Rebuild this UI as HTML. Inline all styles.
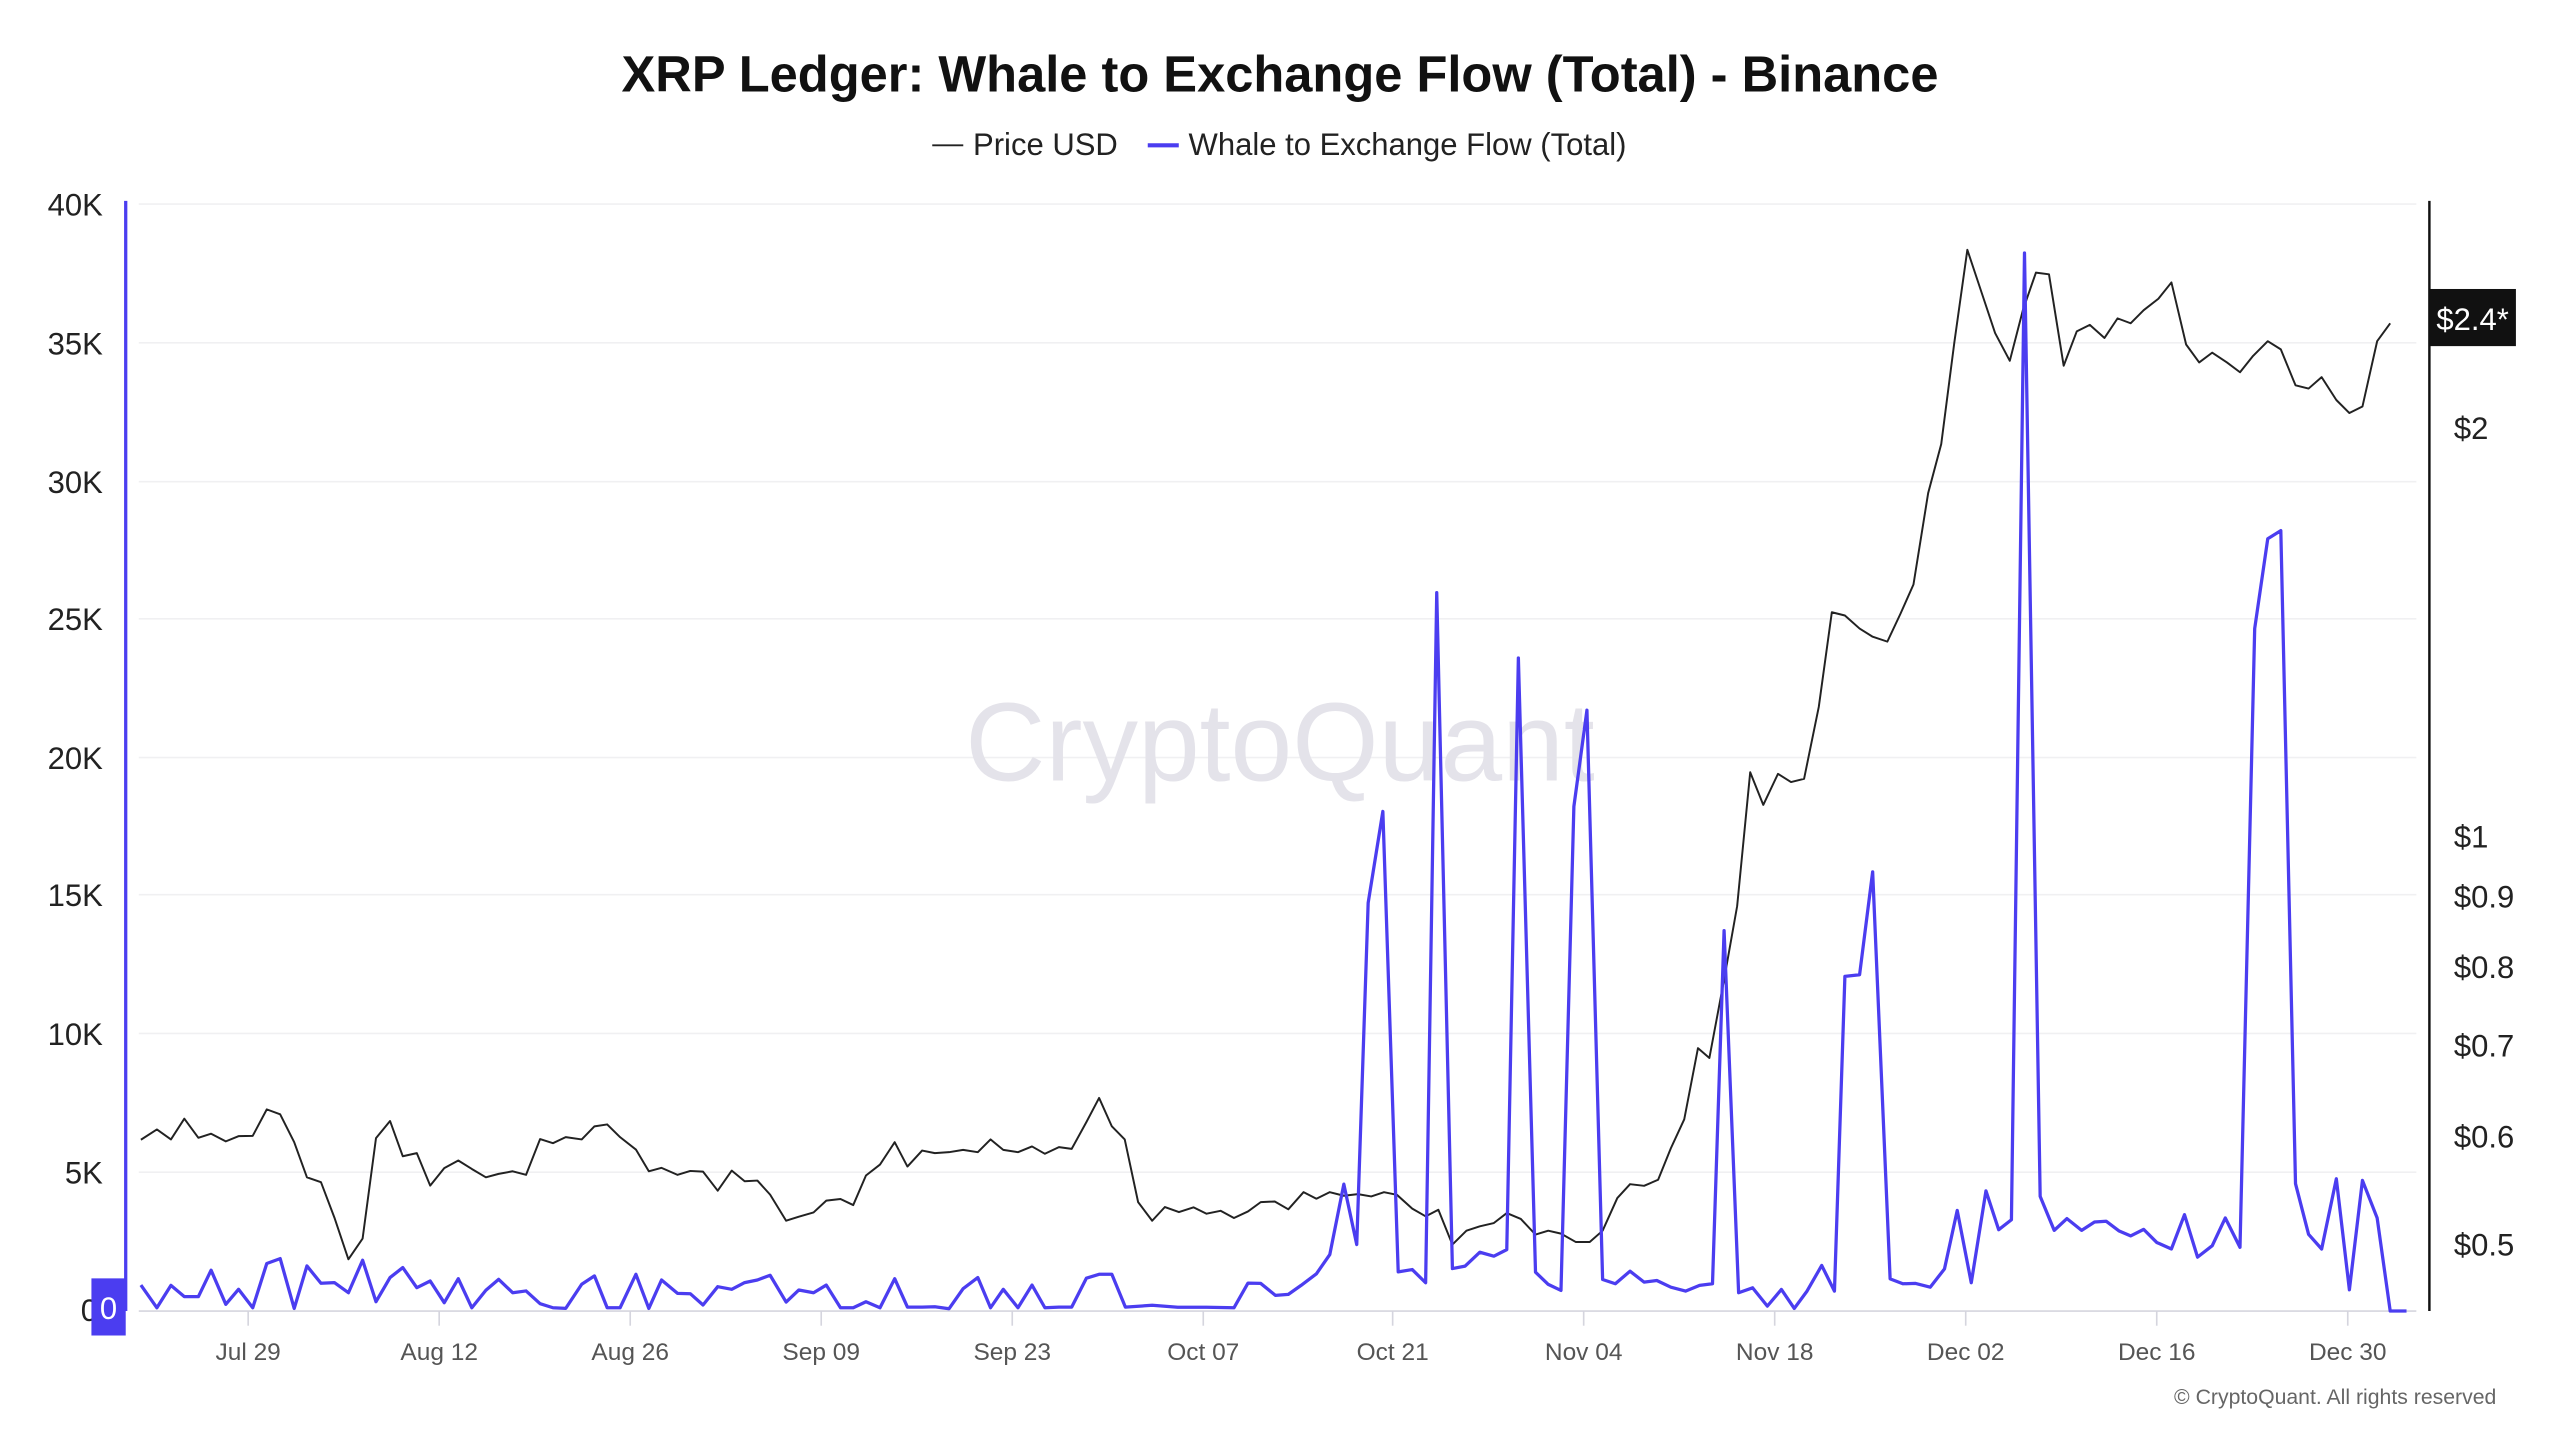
<!DOCTYPE html>
<html><head><meta charset="utf-8"><style>
html,body{margin:0;padding:0;background:#fff;}
svg{display:block;}
text{font-family:"Liberation Sans",sans-serif;}
</style></head><body>
<svg width="2560" height="1440" viewBox="0 0 1568 882" preserveAspectRatio="none" xmlns="http://www.w3.org/2000/svg">
<rect width="1568" height="882" fill="#fff"/>
<text x="784" y="56" text-anchor="middle" font-size="31" font-weight="bold" fill="#111">XRP Ledger: Whale to Exchange Flow (Total) - Binance</text>
<line x1="571" y1="89" x2="590" y2="89" stroke="#222" stroke-width="1.2"/>
<text x="596" y="95" font-size="19" fill="#222">Price USD</text>
<line x1="703" y1="89" x2="722" y2="89" stroke="#4b3df0" stroke-width="2.5"/>
<text x="728" y="95" font-size="19" fill="#222">Whale to Exchange Flow (Total)</text>
<g stroke="#f0f0f2" stroke-width="1">
<line x1="85" y1="125" x2="1480" y2="125"/><line x1="85" y1="210" x2="1480" y2="210"/><line x1="85" y1="295" x2="1480" y2="295"/><line x1="85" y1="379" x2="1480" y2="379"/><line x1="85" y1="464" x2="1480" y2="464"/><line x1="85" y1="548" x2="1480" y2="548"/><line x1="85" y1="633" x2="1480" y2="633"/><line x1="85" y1="718" x2="1480" y2="718"/>
</g>
<text x="784" y="478" text-anchor="middle" font-size="68" fill="#e4e3ea">CryptoQuant</text>
<line x1="85" y1="803" x2="1480" y2="803" stroke="#d5d5de" stroke-width="1"/>
<g stroke="#d5d5de" stroke-width="1">
<line x1="152" y1="803" x2="152" y2="812"/><line x1="269" y1="803" x2="269" y2="812"/><line x1="386" y1="803" x2="386" y2="812"/><line x1="503" y1="803" x2="503" y2="812"/><line x1="620" y1="803" x2="620" y2="812"/><line x1="737" y1="803" x2="737" y2="812"/><line x1="853" y1="803" x2="853" y2="812"/><line x1="970" y1="803" x2="970" y2="812"/><line x1="1087" y1="803" x2="1087" y2="812"/><line x1="1204" y1="803" x2="1204" y2="812"/><line x1="1321" y1="803" x2="1321" y2="812"/><line x1="1438" y1="803" x2="1438" y2="812"/>
</g>
<g font-size="15" fill="#555" text-anchor="middle">
<text x="152" y="833">Jul 29</text><text x="269" y="833">Aug 12</text><text x="386" y="833">Aug 26</text><text x="503" y="833">Sep 09</text><text x="620" y="833">Sep 23</text><text x="737" y="833">Oct 07</text><text x="853" y="833">Oct 21</text><text x="970" y="833">Nov 04</text><text x="1087" y="833">Nov 18</text><text x="1204" y="833">Dec 02</text><text x="1321" y="833">Dec 16</text><text x="1438" y="833">Dec 30</text>
</g>
<g font-size="19" fill="#222" text-anchor="end">
<text x="63" y="132">40K</text><text x="63" y="217">35K</text><text x="63" y="302">30K</text><text x="63" y="386">25K</text><text x="63" y="471">20K</text><text x="63" y="555">15K</text><text x="63" y="640">10K</text><text x="63" y="725">5K</text><text x="60" y="809">0</text>
</g>
<g font-size="19" fill="#222">
<text x="1503" y="269">$2</text><text x="1503" y="519">$1</text><text x="1503" y="556">$0.9</text><text x="1503" y="599">$0.8</text><text x="1503" y="647">$0.7</text><text x="1503" y="703">$0.6</text><text x="1503" y="769">$0.5</text>
</g>
<line x1="77" y1="123" x2="77" y2="803" stroke="#4b3df0" stroke-width="2"/>
<line x1="1488" y1="123" x2="1488" y2="803" stroke="#111" stroke-width="1.5"/>
<polyline fill="none" stroke="#222" stroke-width="1.2" stroke-linejoin="round" points="86.3,698.1 96.1,691.8 104.7,697.9 112.9,685.2 121.5,696.9 129.3,694.4 138.3,699.1 146.1,695.9 154.8,695.7 163.4,679.5 171.6,682.5 180.2,699.6 188,721.1 196.6,724.1 204.8,745.7 213.4,771.3 222.1,758.6 230.3,697.1 238.9,686.6 246.7,708.2 255.3,706.3 263.5,726.2 272.1,715.5 280.7,710.8 289,716 297.6,721.1 305.4,719 314,717.4 322.2,719.6 330.8,697.7 338.7,700.2 346.5,696.5 356.3,697.9 364.1,689.9 371.9,688.7 379.8,696.5 389.5,704.1 397.4,717.4 405.2,715.3 415,719.6 422.8,717.2 430.6,717.6 439.6,729.3 448.2,717 456.1,723.5 463.9,723.1 471.7,731.7 481.5,747.7 489.3,745.2 498.3,742.6 506.1,735.4 514.8,734.4 522.6,738.1 530.4,720 539,713.3 548,699.6 555.8,714.5 564.8,704.7 572.6,706.3 581.3,705.7 589.9,704.3 598.9,705.7 606.7,697.9 614.5,704.3 623.5,705.7 632.1,702.2 640,706.7 648.6,702.6 656.4,703.7 665.4,687.3 673.2,672.5 681,689.9 688.9,697.9 697.1,736.3 705.7,747.7 713.5,739.3 722.1,742.4 731.1,739.5 739,743.4 747.6,741.6 755.8,746 764.4,742 772.2,736.3 780.8,735.9 789.1,740.7 798.4,730.2 806.3,734.2 814.5,730.2 823.1,732.4 831.7,731.4 839.9,732.8 847.7,730.2 855.6,731.8 865,740.3 873.2,745 881,741 889.6,762.3 898.2,753.8 906.4,751.1 915,749.1 922.9,743 931.5,746.6 940.5,756.2 948.3,753.8 956.1,755.6 965.1,760.7 973.7,760.7 981.6,753.8 990.6,733.8 998.4,725.3 1007,726.3 1015.6,722.6 1023.4,703.3 1031.6,685.6 1040,642 1047,648 1056,600 1064,555 1072,473 1080,493 1089,474 1097,479 1105,477 1114,433 1122,375 1130,377 1139,385 1147,390 1156,393 1164,376 1172,358 1181,302 1189,272 1197,210 1205,153 1214,180 1222,204 1231,221 1239,190 1247,167 1255,168 1264,224 1272,203 1280,199 1289,207 1297,195 1305,198 1313,190 1322,183 1330,173 1339,211 1347,222 1355,216 1364,222 1372,228 1380,218 1389,209 1397,214 1406,236 1414,238 1422,231 1431,245 1439,253 1447,249 1456,209 1464,198"/>
<polyline fill="none" stroke="#4b3df0" stroke-width="2" stroke-linejoin="round" points="86.3,787.1 96.1,801 104.7,787.3 112.9,794.2 121.5,794.2 129.3,778 138.3,798.9 146.1,789.7 154.8,801 163.4,773.9 171.6,770.9 180.2,801.4 188,775.4 196.6,786 204.8,785.6 213.4,791.8 222.1,771.9 230.3,797.3 238.9,782.5 246.7,776.4 255.3,788.7 263.5,784.6 272.1,797.9 280.7,783.2 289,801 297.6,790.3 305.4,783.6 314,791.8 322.2,790.7 330.8,798.5 338.7,801 346.5,801.4 356.3,786.6 364.1,781.5 371.9,801 379.8,801 389.5,780.5 397.4,801.4 405.2,784 415,792.2 422.8,792.4 430.6,799.3 439.6,788.1 448.2,789.7 456.1,785.6 463.9,784 471.7,781.1 481.5,797.5 489.3,790.1 498.3,791.8 506.1,787.1 514.8,801 522.6,801 530.4,797.3 539,801 548,783.2 555.8,800.6 564.8,800.6 572.6,800.4 581.3,801.6 589.9,789.3 598.9,782.5 606.7,801 614.5,789.7 623.5,801 632.1,787.1 640,801 648.6,800.6 656.4,800.6 665.4,782.9 673.2,780.5 681,780.5 689.3,800.6 705.7,799.5 721.4,800.7 739,800.7 755.8,801 764.4,785.9 772.2,786.1 781.2,793.4 789.1,792.8 796.9,787.3 806.3,780.2 814.5,768.4 823.1,725.3 831,762.3 838,553 847,497 856.4,779 865,777.6 873.2,785.7 880,363 889.6,777 897.4,775.5 906.4,767 915,769.4 922.9,765.4 930,403 940.5,779.2 948.3,786.7 956.1,790.4 964,494 972,435 981.6,783.7 989.4,786.3 998.4,778.6 1007,785.3 1014.8,784.3 1023.4,788.4 1032.4,790.8 1041,787.3 1048.9,786.3 1056,570 1064.9,791.8 1073.5,788.8 1082.5,800 1091.1,789.8 1099,801.4 1106.8,790.8 1115.8,775.1 1123.6,790.8 1130,598 1139,597 1147,534 1157.7,783.3 1165.5,786.3 1173.3,786.1 1182.3,788.4 1191,777.2 1198.8,741.4 1207.4,785.7 1216.4,729.4 1224.2,753.2 1232,747.1 1240,155 1249.6,732.8 1258.2,753.6 1266,746.4 1275,753.6 1282.9,748.5 1290,748 1298,754 1305,757 1313,753 1321,761 1330,765 1338,744 1346,770 1355,763 1363,746 1372,764 1381,385 1389,330 1397,325 1406,725 1414,756 1422,765 1431,722 1439,790 1447,723 1456,746 1464,803 1474,803"/>
<rect x="56" y="783" width="21" height="35" fill="#4b3df0"/>
<text x="66.5" y="808" text-anchor="middle" font-size="19" fill="#fff">0</text>
<rect x="1488" y="177" width="53" height="35" fill="#111"/>
<text x="1514.5" y="202" text-anchor="middle" font-size="19" fill="#fff">$2.4*</text>
<text x="1529" y="860" text-anchor="end" font-size="13" fill="#666">© CryptoQuant. All rights reserved</text>
</svg>
</body></html>
